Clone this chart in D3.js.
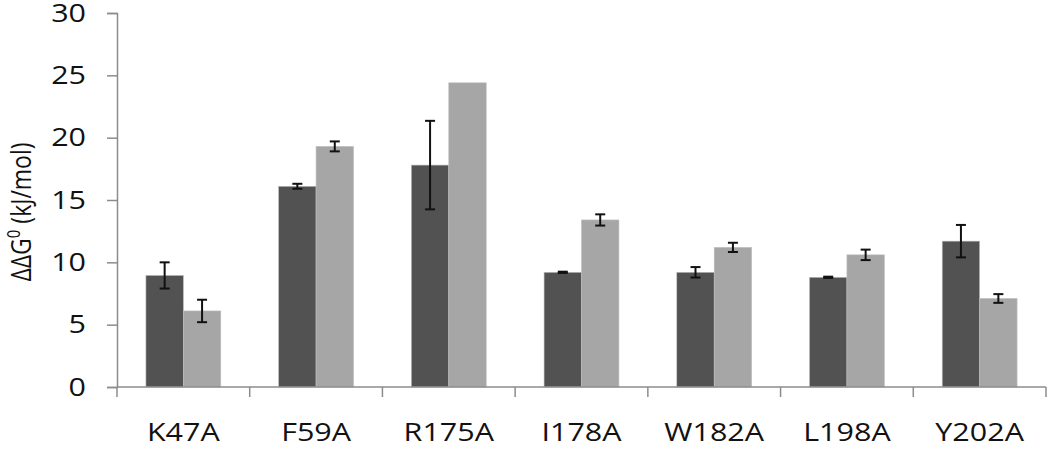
<!DOCTYPE html>
<html>
<head>
<meta charset="utf-8">
<script src="https://cdn.jsdelivr.net/npm/d3@7"></script>
<style>
  body { margin: 0; background: #fff; }
  text { font-family: "Open Sans", sans-serif; fill: #111; }
</style>
</head>
<body>
<div id="chart"></div>
<script>
const width = 1050;
const height = 467;

// data
const mutants = ["K47A", "F59A", "R175A", "I178A", "W182A", "L198A", "Y202A"];
const darkValues = [8.95, 16.1, 17.8, 9.2, 9.2, 8.8, 11.7];
const darkErrors = [1.05, 0.2, 3.55, 0.05, 0.42, 0.05, 1.3];
const lightValues = [6.1, 19.3, 24.4, 13.4, 11.2, 10.6, 7.1];
const lightErrors = [0.9, 0.4, 0, 0.45, 0.37, 0.42, 0.35];
const yTicks = [0, 5, 10, 15, 20, 25, 30];

const series = [
  { key: "dark", values: darkValues, errors: darkErrors, color: "#525252" },
  { key: "light", values: lightValues, errors: lightErrors, color: "#a6a6a6" }
];

const margin = { top: 13, right: 4, bottom: 80, left: 117 };
const wide = 1.22; // source image looks stretched sideways

const svg = d3.select("#chart")
    .append("svg")
    .attr("width", width)
    .attr("height", height);

const x = d3.scaleBand()
    .domain(mutants)
    .range([margin.left, width - margin.right])
    .paddingInner(0.436)
    .paddingOuter(0.218);

const xInner = d3.scaleBand()
    .domain(series.map(s => s.key))
    .range([0, x.bandwidth()]);

const y = d3.scaleLinear()
    .domain([0, 30])
    .range([height - margin.bottom, margin.top]);

// bars
const groups = svg.selectAll("g.group")
    .data(mutants)
    .enter()
    .append("g")
    .attr("class", "group")
    .attr("transform", d => `translate(${x(d)},0)`);

series.forEach(s => {
  groups.append("rect")
    .attr("x", xInner(s.key))
    .attr("y", (d, i) => y(s.values[i]))
    .attr("width", xInner.bandwidth())
    .attr("height", (d, i) => y(0) - y(s.values[i]))
    .attr("fill", s.color)
    .attr("stroke", "#bdbdbd")
    .attr("stroke-width", 0.6);
});

// error bars
series.forEach(s => {
  const cx = xInner(s.key) + xInner.bandwidth() / 2;
  groups.filter((d, i) => s.errors[i] > 0).each(function(d) {
    const i = mutants.indexOf(d);
    const g = d3.select(this);
    const top = y(s.values[i] + s.errors[i]);
    const bot = y(s.values[i] - s.errors[i]);
    g.append("line")
      .attr("x1", cx).attr("x2", cx)
      .attr("y1", top).attr("y2", bot)
      .attr("stroke", "#111").attr("stroke-width", 2);
    [top, bot].forEach(yy => {
      g.append("line")
        .attr("x1", cx - 5).attr("x2", cx + 5)
        .attr("y1", yy).attr("y2", yy)
        .attr("stroke", "#111").attr("stroke-width", 2);
    });
  });
});

// y axis
const yAxis = svg.append("g")
    .attr("transform", `translate(${margin.left},0)`)
    .call(d3.axisLeft(y).tickValues(yTicks).tickSize(10).tickPadding(21));
yAxis.select(".domain").attr("stroke", "#8c8c8c").attr("stroke-width", 1.5);
yAxis.selectAll(".tick line").attr("stroke", "#8c8c8c").attr("stroke-width", 1.5);
yAxis.selectAll(".tick text")
    .attr("font-size", "25px")
    .attr("font-family", "'Open Sans', sans-serif")
    .attr("fill", "#111")
    .attr("x", -31 / wide)
    .attr("transform", `scale(${wide},1)`);

// x axis: ticks at the band boundaries
const xAxis = svg.append("g")
    .attr("transform", `translate(0,${y(0)})`);
xAxis.append("line")
    .attr("x1", margin.left).attr("x2", width - margin.right)
    .attr("y1", 0).attr("y2", 0)
    .attr("stroke", "#8c8c8c").attr("stroke-width", 1.5);
const step = x.step();
const bounds = d3.range(mutants.length + 1).map(i => margin.left + i * step);
xAxis.selectAll("line.tick")
    .data(bounds)
    .enter()
    .append("line")
    .attr("class", "tick")
    .attr("x1", d => d).attr("x2", d => d)
    .attr("y1", 0).attr("y2", 10)
    .attr("stroke", "#8c8c8c").attr("stroke-width", 1.5);
xAxis.selectAll("text")
    .data(mutants)
    .enter()
    .append("text")
    .attr("transform", d => `translate(${x(d) + x.bandwidth() / 2},54) scale(${wide},1)`)
    .attr("text-anchor", "middle")
    .attr("font-size", "25px")
    .text(d => d);

// y title
const title = svg.append("text")
    .attr("transform", `translate(31,${(y(0) + y(30)) / 2 + 12}) rotate(-90) scale(1,${wide})`)
    .attr("text-anchor", "middle")
    .attr("font-size", "23px");
title.append("tspan").text("ΔΔG");
title.append("tspan").attr("font-size", "15px").attr("dy", "-9").text("0");
title.append("tspan").attr("dy", "9").text(" (kJ/mol)");
</script>
</body>
</html>
